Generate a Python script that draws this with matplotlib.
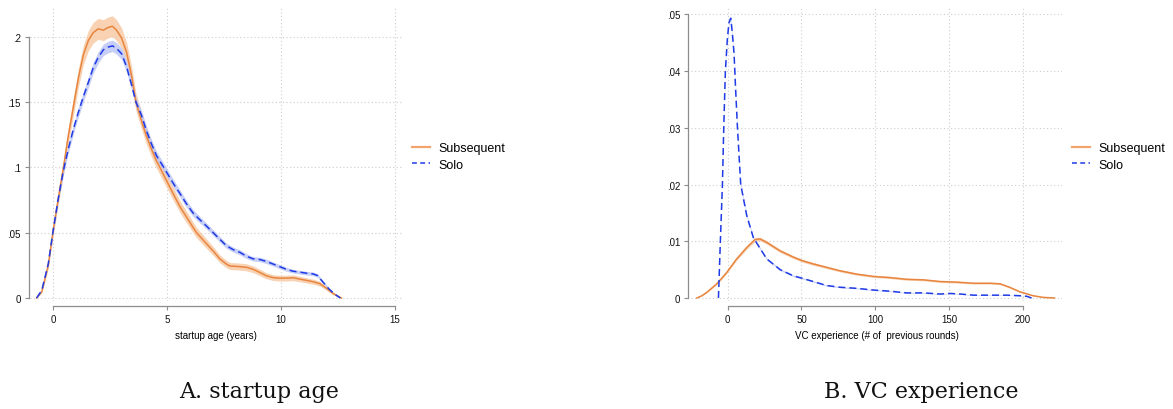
import matplotlib
matplotlib.use("Agg")
import matplotlib.pyplot as plt
from matplotlib.lines import Line2D
import numpy as np

# ---------------- Panel A: startup age (years) ----------------
age_sub_x = [-0.73, -0.5, -0.22, 0.0, 0.22, 0.44, 0.66, 0.88, 1.10, 1.32, 1.54, 1.75, 1.97, 2.2, 2.4,
             2.6, 2.78, 3.0, 3.22, 3.44, 3.63, 3.87, 4.09, 4.31, 4.53, 4.68, 4.97, 5.26, 5.56, 5.85,
             6.14, 6.29, 6.6, 7.02, 7.31, 7.6, 7.75, 8.19, 8.48, 8.77, 9.06, 9.36, 9.65, 9.94, 10.23,
             10.53, 10.82, 11.11, 11.4, 11.7, 11.99, 12.28, 12.65]
age_sub_y = [0.0, 0.005, 0.025, 0.052, 0.076, 0.099, 0.124, 0.146, 0.168, 0.186, 0.197, 0.203, 0.206,
             0.205, 0.207, 0.208, 0.205, 0.199, 0.188, 0.170, 0.150, 0.136, 0.124, 0.114, 0.105, 0.100,
             0.090, 0.080, 0.070, 0.062, 0.054, 0.050, 0.044, 0.036, 0.030, 0.026, 0.0245, 0.024,
             0.0235, 0.022, 0.0196, 0.017, 0.0156, 0.0152, 0.0152, 0.0155, 0.0145, 0.0135, 0.0125,
             0.011, 0.0075, 0.0035, 0.0]
age_sub_ci = [0.0, 0.0012, 0.0028, 0.004, 0.0048, 0.0055, 0.006, 0.0067, 0.0072, 0.0075, 0.0078,
              0.0079, 0.008, 0.008, 0.008, 0.008, 0.008, 0.0078, 0.0076, 0.0072, 0.0068, 0.0065,
              0.0062, 0.0059, 0.0057, 0.0055, 0.0053, 0.005, 0.0046, 0.0044, 0.0041, 0.0039, 0.0037,
              0.0033, 0.003, 0.0028, 0.0027, 0.0027, 0.0027, 0.0026, 0.0025, 0.0023, 0.0022, 0.0022,
              0.0022, 0.0022, 0.0021, 0.002, 0.002, 0.0018, 0.0015, 0.001, 0.0]

age_solo_x = [-0.73, -0.5, -0.22, 0.0, 0.22, 0.44, 0.66, 0.88, 1.10, 1.32, 1.54, 1.75, 1.97, 2.2, 2.4,
              2.6, 2.78, 3.0, 3.22, 3.44, 3.63, 3.87, 4.09, 4.31, 4.53, 4.85, 5.26, 5.56, 5.85, 6.14,
              6.43, 6.73, 7.02, 7.31, 7.6, 7.9, 8.19, 8.48, 8.77, 9.06, 9.36, 9.65, 9.94, 10.23, 10.53,
              10.82, 11.11, 11.4, 11.6, 11.85, 12.1, 12.35, 12.6]
age_solo_y = [0.0, 0.006, 0.026, 0.052, 0.076, 0.097, 0.114, 0.129, 0.142, 0.154, 0.165, 0.176, 0.184,
              0.190, 0.192, 0.193, 0.191, 0.187, 0.177, 0.163, 0.150, 0.140, 0.128, 0.118, 0.109,
              0.100, 0.088, 0.080, 0.072, 0.065, 0.060, 0.055, 0.050, 0.045, 0.040, 0.037, 0.035,
              0.032, 0.030, 0.0295, 0.028, 0.026, 0.024, 0.022, 0.0205, 0.0198, 0.019, 0.0185,
              0.0172, 0.012, 0.007, 0.003, 0.0]
age_solo_ci = [0.0, 0.0008, 0.0016, 0.0023, 0.0028, 0.0031, 0.0034, 0.0036, 0.0038, 0.0039, 0.004,
               0.0042, 0.0043, 0.0044, 0.0044, 0.0044, 0.0044, 0.0043, 0.0042, 0.004, 0.0039, 0.0037,
               0.0036, 0.0034, 0.0033, 0.0032, 0.003, 0.0028, 0.0027, 0.0026, 0.0025, 0.0023, 0.0022,
               0.0021, 0.002, 0.0019, 0.0019, 0.0018, 0.0017, 0.0017, 0.0017, 0.0016, 0.0016, 0.0015,
               0.0014, 0.0014, 0.0014, 0.0014, 0.0013, 0.0011, 0.0008, 0.0005, 0.0]

age_xticks = [0, 5, 10, 15]
age_yticks = [0, 0.05, 0.1, 0.15, 0.2]
age_yticklabels = ["0", ".05", ".1", ".15", ".2"]

# ---------------- Panel B: VC experience (# of previous rounds) ----------------
vc_sub_x = [-21, -17.5, -14.2, -11, -7.5, -4, -0.7, 6.1, 12.9, 18.5, 21.9, 26.4, 35.5, 44.5, 50.2, 58,
            67, 76, 87.5, 98.8, 110, 121, 132.7, 144, 155, 166.6, 178, 184.6, 191, 198, 207, 214, 221.5]
vc_sub_y = [0.0, 0.0004, 0.001, 0.0017, 0.0025, 0.0035, 0.0045, 0.0069, 0.0089, 0.0103, 0.0104,
            0.0098, 0.0083, 0.0072, 0.0066, 0.006, 0.0054, 0.0048, 0.0042, 0.0038, 0.0036, 0.0033,
            0.0032, 0.0029, 0.0028, 0.0026, 0.0026, 0.0025, 0.0019, 0.0011, 0.0004, 0.0001, 0.0]
vc_sub_ci = [0.0, 0.00005, 0.0001, 0.00012, 0.00015, 0.00018, 0.0002, 0.00025, 0.0003, 0.00032,
             0.00032, 0.0003, 0.00028, 0.00026, 0.00025, 0.00024, 0.00022, 0.0002, 0.0002, 0.00018,
             0.00018, 0.00017, 0.00017, 0.00016, 0.00016, 0.00015, 0.00015, 0.00015, 0.00013,
             0.0001, 0.00006, 0.00003, 0.0]

vc_solo_x = [-6.3, -5.0, -3.6, -2.7, -1.6, -0.3, 0.8, 2.0, 3.0, 4.3, 5.3, 6.6, 8.8, 12.9, 17.4, 26.4,
             35.5, 44.5, 50.2, 58, 67, 76, 87.5, 98.8, 110, 121, 132.7, 144, 150.7, 157.5, 166.6,
             178, 189, 198, 202.7, 206]
vc_solo_y = [0.0, 0.01, 0.02, 0.03, 0.04, 0.0455, 0.0485, 0.0493, 0.047, 0.043, 0.037, 0.03, 0.02,
             0.0145, 0.0106, 0.0069, 0.005, 0.0039, 0.0035, 0.0029, 0.0022, 0.0019, 0.0017, 0.0014,
             0.0012, 0.0009, 0.0009, 0.0007, 0.0008, 0.0007, 0.0005, 0.0005, 0.0005, 0.0004,
             0.0003, 0.0]
vc_solo_ci = [0.0, 0.0002, 0.0003, 0.0003, 0.0004, 0.0004, 0.0004, 0.0004, 0.0004, 0.0004, 0.0004,
              0.0003, 0.0003, 0.00025, 0.0002, 0.00018, 0.00015, 0.00013, 0.00012, 0.00011, 0.0001,
              0.0001, 0.00009, 0.00008, 0.00008, 0.00007, 0.00007, 0.00006, 0.00006, 0.00006,
              0.00005, 0.00005, 0.00005, 0.00004, 0.00003, 0.0]

vc_xticks = [0, 50, 100, 150, 200]
vc_yticks = [0, 0.01, 0.02, 0.03, 0.04, 0.05]
vc_yticklabels = ["0", ".01", ".02", ".03", ".04", ".05"]

series_labels = ["Subsequent", "Solo"]

# ---------------- styling ----------------
ORANGE = "#E8853F"
ORANGE_FILL = "#F7CBA6"
ORANGE_KEY = "#F2A46C"
BLUE = "#1F3BE6"
BLUE_FILL = "#BAC3F6"
AXIS_GRAY = "#8C8C8C"
GRID_GRAY = "#CDCDCD"
DASH = (0, (4.6, 2.6))

W, H = 1173, 410
fig = plt.figure(figsize=(W / 100, H / 100), dpi=100)
plt.rcParams["font.family"] = ["Liberation Sans", "DejaVu Sans"]


def px_axes(left, right, top, bottom):
    return fig.add_axes([left / W, 1 - bottom / H, (right - left) / W, (bottom - top) / H])


def style_axes(ax, xlim, ylim, xticks, yticks, yticklabels, xlabel, left_out):
    ax.set_xlim(*xlim)
    ax.set_ylim(*ylim)
    ax.set_xticks(xticks)
    ax.set_yticks(yticks)
    ax.set_yticklabels(yticklabels)
    ax.set_xlabel(xlabel, fontsize=7, labelpad=4.5)
    for s in ("top", "right"):
        ax.spines[s].set_visible(False)
    ax.spines["left"].set_position(("outward", left_out))
    ax.spines["bottom"].set_position(("outward", 3.8))
    ax.spines["left"].set_bounds(yticks[0], yticks[-1])
    ax.spines["bottom"].set_bounds(xticks[0], xticks[-1])
    for s in ("left", "bottom"):
        ax.spines[s].set_color(AXIS_GRAY)
        ax.spines[s].set_linewidth(0.9)
    ax.tick_params(direction="out", length=3.2, width=0.8, color=AXIS_GRAY,
                   labelsize=7, pad=2.5, labelcolor="#111111")
    ax.grid(True, linestyle=(0, (1, 2.2)), color=GRID_GRAY, linewidth=0.8)
    ax.set_axisbelow(True)


def draw_pair(ax, sx, sy, sci, ox, oy, oci):
    sx, sy, sci = map(np.asarray, (sx, sy, sci))
    ox, oy, oci = map(np.asarray, (ox, oy, oci))
    ax.fill_between(sx, sy - sci, sy + sci, color=ORANGE_FILL, lw=0, alpha=0.85, zorder=2)
    ax.fill_between(ox, oy - oci, oy + oci, color=BLUE_FILL, lw=0, alpha=0.8, zorder=2)
    ax.plot(sx, sy, color=ORANGE, lw=1.1, zorder=3, solid_joinstyle="round")
    ax.plot(ox, oy, color=BLUE, lw=1.1, linestyle=DASH, zorder=4)


def add_legend(ax, x_px, y_px):
    handles = [Line2D([], [], color=ORANGE_KEY, lw=1.6),
               Line2D([], [], color=BLUE, lw=1.1, linestyle=(0, (3.2, 2.2)))]
    ax.legend(handles, series_labels, loc="center left",
              bbox_to_anchor=(x_px / W, 1 - y_px / H), bbox_transform=fig.transFigure,
              frameon=False, fontsize=9, handlelength=1.4, handletextpad=0.7,
              labelspacing=0.35, borderpad=0, borderaxespad=0)


# Panel A
axA = px_axes(30, 402, 7, 302)
style_axes(axA, (-1.02, 15.31), (-0.0023, 0.2235), age_xticks, age_yticks, age_yticklabels,
           "startup age (years)", 0.95)
draw_pair(axA, age_sub_x, age_sub_y, age_sub_ci, age_solo_x, age_solo_y, age_solo_ci)
add_legend(axA, 412, 157.5)

# Panel B
axB = px_axes(691, 1062, 7, 302)
style_axes(axB, (-24.9, 226.6), (-0.00053, 0.05146), vc_xticks, vc_yticks, vc_yticklabels,
           "VC experience (# of  previous rounds)", 1.9)
draw_pair(axB, vc_sub_x, vc_sub_y, vc_sub_ci, vc_solo_x, vc_solo_y, vc_solo_ci)
add_legend(axB, 1072, 157.5)

# Panel captions
fig.text(259 / W, 1 - 398 / H, "A. startup age", ha="center", va="baseline",
         family="DejaVu Serif", fontsize=16, color="#111111")
fig.text(921 / W, 1 - 398 / H, "B. VC experience", ha="center", va="baseline",
         family="DejaVu Serif", fontsize=16, color="#111111")

fig.savefig("out.png", dpi=100)
